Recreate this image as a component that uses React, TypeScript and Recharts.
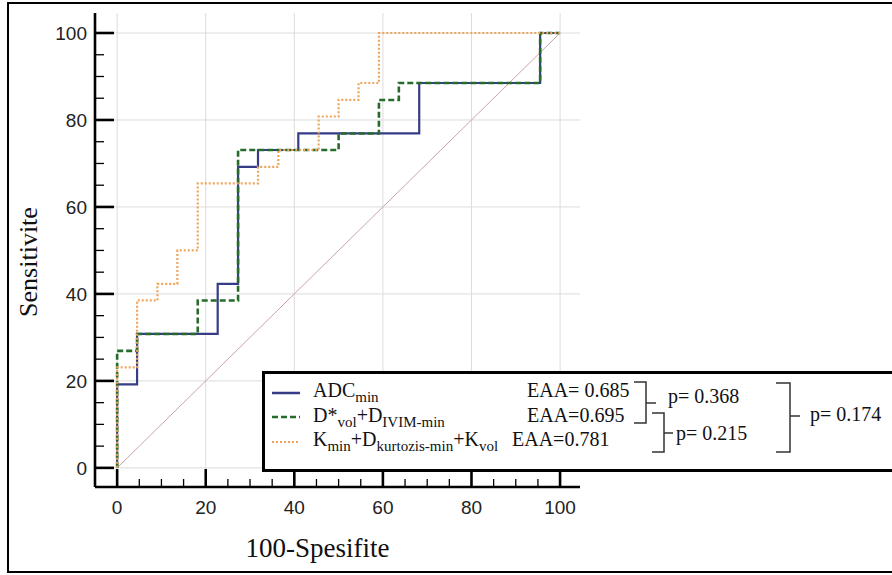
import React from 'react';
import { LineChart, Line, XAxis, YAxis, CartesianGrid, Legend, Label } from 'recharts';

// ROC curves: x = 100-Spesifite, y = Sensitivite (step vertices)
const adcX = [0, 0, 4.5, 4.5, 22.7, 22.7, 27.3, 27.3, 31.8, 31.8, 40.9, 40.9, 68.2, 68.2, 95.5, 95.5, 100];
const adcY = [0, 19.2, 19.2, 30.8, 30.8, 42.3, 42.3, 69.2, 69.2, 73.1, 73.1, 76.9, 76.9, 88.5, 88.5, 100, 100];

const ivimX = [0, 0, 4.5, 4.5, 18.2, 18.2, 27.3, 27.3, 50, 50, 59.1, 59.1, 63.6, 63.6, 95.5, 95.5, 100];
const ivimY = [0, 26.9, 26.9, 30.8, 30.8, 38.5, 38.5, 73.1, 73.1, 76.9, 76.9, 84.6, 84.6, 88.5, 88.5, 100, 100];

const kurtX = [0, 0, 4.5, 4.5, 9.1, 9.1, 13.6, 13.6, 18.2, 18.2, 31.8, 31.8, 36.4, 36.4, 45.5, 45.5, 50, 50, 54.5, 54.5, 59.1, 59.1, 100];
const kurtY = [0, 23.1, 23.1, 38.5, 38.5, 42.3, 42.3, 50, 50, 65.4, 65.4, 69.2, 69.2, 73.1, 73.1, 80.8, 80.8, 84.6, 84.6, 88.5, 88.5, 100, 100];

const refX = [0, 100];
const refY = [0, 100];

const axisTicks = [0, 5, 10, 15, 20, 25, 30, 35, 40, 45, 50, 55, 60, 65, 70, 75, 80, 85, 90, 95, 100];
const gridValues = [0, 20, 40, 60, 80, 100];

const aucLabels = ['EAA= 0.685', 'EAA=0.695', 'EAA=0.781'];
const pLabels = ['p= 0.368', 'p= 0.215', 'p= 0.174'];

const toPoints = (xs: number[], ys: number[]) => xs.map((x, i) => ({ x, y: ys[i] }));

const adcData = toPoints(adcX, adcY);
const ivimData = toPoints(ivimX, ivimY);
const kurtData = toPoints(kurtX, kurtY);
const refData = toPoints(refX, refY);

const SANS = '"Liberation Sans", Arial, sans-serif';
const SERIF = '"Liberation Serif", "Times New Roman", serif';

const COLORS = { adc: '#363d86', ivim: '#276b2b', kurt: '#f0a45a', ref: '#caa4a4' };

const Y_MARGIN = 8;
const X_MARGIN = 13;

// ticks point inwards, long on labelled values
const YTick = (props: any) => {
  const { x, y, payload } = props;
  const major = payload.value % 20 === 0;
  const ax = x + Y_MARGIN;
  return (
    <g>
      <line x1={ax} x2={ax + (major ? 19 : 9)} y1={y} y2={y} stroke="#000" strokeWidth={major ? 2.6 : 1.3} />
      {major && (
        <text x={x} y={y} dy="0.36em" textAnchor="end" fontFamily={SANS} fontSize={19} fill="#222">
          {payload.value}
        </text>
      )}
    </g>
  );
};

const XTick = (props: any) => {
  const { x, y, payload } = props;
  const major = payload.value % 20 === 0;
  const ay = y - X_MARGIN;
  return (
    <g>
      <line x1={x} x2={x} y1={ay} y2={ay - (major ? 18 : 8)} stroke="#000" strokeWidth={major ? 2.6 : 1.3} />
      {major && (
        <text x={x} y={y} dy="0.72em" textAnchor="middle" fontFamily={SANS} fontSize={19} fill="#222">
          {payload.value}
        </text>
      )}
    </g>
  );
};

const Bracket = ({ x, x0, y1, y2, ym, tip }: any) => (
  <g fill="none" stroke="#333" strokeWidth={1.5}>
    <path d={`M${x0},${y1} H${x} V${y2} H${x0}`} />
    <path d={`M${x},${ym} H${tip}`} />
  </g>
);

const LegendBox = () => {
  const sub = { fontSize: 15 };
  return (
    <div
      style={{
        width: 640,
        height: 101,
        boxSizing: 'border-box',
        border: '3px solid #000',
        background: '#fff',
        position: 'relative',
      }}
    >
      <svg width={634} height={95} style={{ position: 'absolute', left: 0, top: 0 }}>
        <line x1={7} x2={35} y1={19} y2={19} stroke={COLORS.adc} strokeWidth={2.5} />
        <line x1={7} x2={35} y1={43} y2={43} stroke={COLORS.ivim} strokeWidth={2.5} strokeDasharray="6 3" />
        <line x1={7} x2={35} y1={68} y2={68} stroke={COLORS.kurt} strokeWidth={2} strokeDasharray="2 2" />
        <g fontFamily={SERIF} fontSize={20} fill="#111">
          <text x={48} y={23}>
            ADC<tspan dy={5} style={sub}>min</tspan>
          </text>
          <text x={48} y={48}>
            D*<tspan dy={5} style={sub}>vol</tspan>
            <tspan dy={-5}>+D</tspan>
            <tspan dy={5} style={sub}>IVIM-min</tspan>
          </text>
          <text x={48} y={72}>
            K<tspan dy={5} style={sub}>min</tspan>
            <tspan dy={-5}>+D</tspan>
            <tspan dy={5} style={sub}>kurtozis-min</tspan>
            <tspan dy={-5}>+K</tspan>
            <tspan dy={5} style={sub}>vol</tspan>
          </text>
          <text x={262} y={23}>{aucLabels[0]}</text>
          <text x={262} y={48}>{aucLabels[1]}</text>
          <text x={247} y={72}>{aucLabels[2]}</text>
          <text x={403} y={29}>{pLabels[0]}</text>
          <text x={411} y={66}>{pLabels[1]}</text>
          <text x={545} y={47}>{pLabels[2]}</text>
        </g>
        <Bracket x={381} x0={369} y1={8} y2={49} ym={29} tip={391} />
        <Bracket x={399} x0={387} y1={39} y2={78} ym={59} tip={408} />
        <Bracket x={525} x0={511} y1={9} y2={78} ym={42} tip={535} />
      </svg>
    </div>
  );
};

export default function App() {
  return (
    <div style={{ position: 'absolute', left: 0, top: 0, width: 892, height: 575, overflow: 'hidden', background: '#fff' }}>
      <div
        style={{
          position: 'absolute',
          left: 7,
          top: 2,
          width: 900,
          height: 571,
          border: '2px solid #000',
          boxSizing: 'border-box',
        }}
      />
      <div style={{ position: 'absolute', left: 0, top: 0 }}>
        <LineChart width={892} height={575} margin={{ top: 13, right: 312, bottom: 0, left: 0 }}>
          <CartesianGrid stroke="#dcdcdc" strokeWidth={1} horizontalValues={gridValues} verticalValues={gridValues} />
          <XAxis
            type="number"
            dataKey="x"
            domain={[-5, 104.5]}
            ticks={axisTicks}
            interval={0}
            allowDataOverflow
            height={88}
            tickSize={0}
            tickMargin={X_MARGIN}
            tickLine={false}
            axisLine={{ stroke: '#000', strokeWidth: 2.6 }}
            tick={<XTick />}
          >
            <Label
              content={(p: any) => {
                const vb = p.viewBox;
                return (
                  <text x={vb.x + vb.width / 2 - 20} y={vb.y + 70} textAnchor="middle" fontFamily={SERIF} fontSize={27} fill="#111">
                    100-Spesifite
                  </text>
                );
              }}
            />
          </XAxis>
          <YAxis
            type="number"
            dataKey="y"
            domain={[-4.4, 104.6]}
            ticks={axisTicks}
            interval={0}
            allowDataOverflow
            width={95}
            tickSize={0}
            tickMargin={Y_MARGIN}
            tickLine={false}
            axisLine={{ stroke: '#000', strokeWidth: 2.6 }}
            tick={<YTick />}
          >
            <Label
              content={(p: any) => {
                const vb = p.viewBox;
                const cx = vb.x + 28;
                const cy = vb.y + vb.height / 2 + 12;
                return (
                  <text
                    x={cx}
                    y={cy}
                    transform={`rotate(-90, ${cx}, ${cy})`}
                    textAnchor="middle"
                    dominantBaseline="central"
                    fontFamily={SERIF}
                    fontSize={26}
                    fill="#111"
                  >
                    Sensitivite
                  </text>
                );
              }}
            />
          </YAxis>
          <Line data={refData} dataKey="y" type="linear" stroke={COLORS.ref} strokeWidth={1} dot={false} isAnimationActive={false} />
          <Line data={adcData} dataKey="y" type="linear" stroke={COLORS.adc} strokeWidth={2.2} dot={false} isAnimationActive={false} />
          <Line
            data={ivimData}
            dataKey="y"
            type="linear"
            stroke={COLORS.ivim}
            strokeWidth={2.6}
            strokeDasharray="6 3"
            dot={false}
            isAnimationActive={false}
          />
          <Line
            data={kurtData}
            dataKey="y"
            type="linear"
            stroke={COLORS.kurt}
            strokeWidth={2.2}
            strokeDasharray="2 2"
            dot={false}
            isAnimationActive={false}
          />
          <Legend
            layout="horizontal"
            verticalAlign="middle"
            align="center"
            content={() => <LegendBox />}
            wrapperStyle={{ position: 'absolute', left: 262, top: 371, width: 640, height: 101, margin: 0 }}
          />
        </LineChart>
      </div>
    </div>
  );
}
